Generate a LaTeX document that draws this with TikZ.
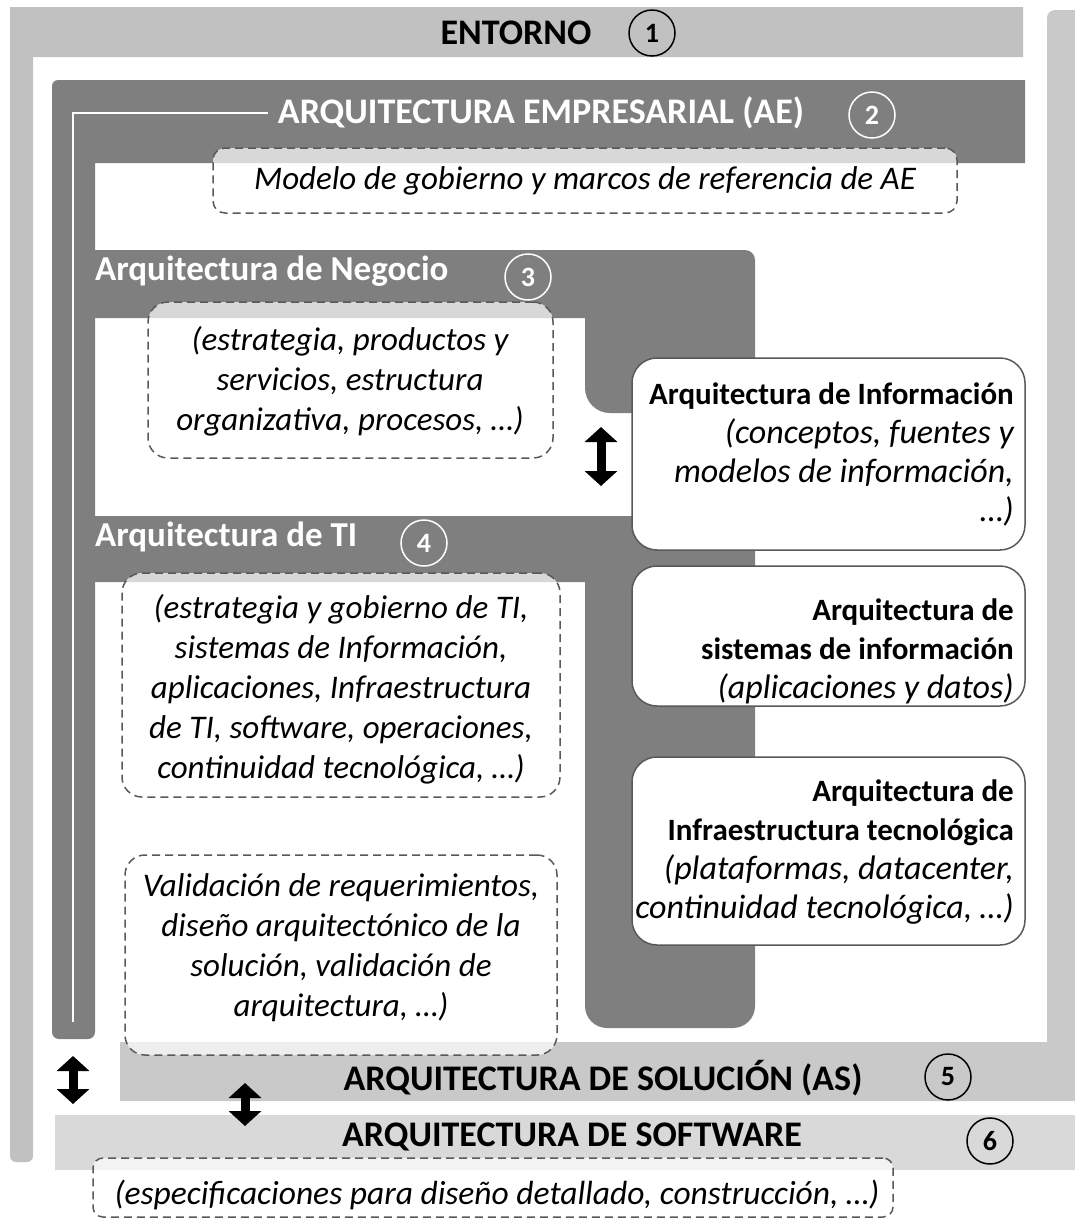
\documentclass[tikz,border=0pt]{standalone}
\usepackage{fontspec}
\setmainfont{Carlito}
\usetikzlibrary{arrows.meta}
\definecolor{entg}{HTML}{C1C1C1}
\definecolor{asg}{HTML}{C9C9C9}
\definecolor{swg}{HTML}{D9D9D9}
\definecolor{darkg}{HTML}{7F7F7F}
\definecolor{edgeg}{HTML}{595959}
\newcommand\lbold[1]{{\fontsize{31}{39}\selectfont\bfseries #1}}
\newcommand\lital[1]{{\itshape #1}}
\begin{document}
\begin{tikzpicture}[x=1pt,y=-1pt,
  num/.style={circle, draw, line width=1.5pt, minimum size=46pt, inner sep=0pt,
    font=\fontsize{28}{28}\selectfont\bfseries},
  numdark/.style={num, draw=black, text=black},
  numlight/.style={num, draw=white, text=white},
  band/.style={font=\fontsize{36}{36}\selectfont\bfseries, inner sep=0pt},
  sub/.style={font=\fontsize{35}{35}\selectfont\bfseries, text=white, inner sep=0pt, anchor=west},
  note/.style={draw=edgeg, dash pattern=on 8pt off 5pt, line width=1.5pt, fill=white,
    fill opacity=0.7, rounded corners=20pt, inner sep=0pt},
  notetext/.style={align=center, font=\fontsize{33}{40}\selectfont\itshape, inner sep=0pt},
  layer/.style={draw=edgeg, line width=1.5pt, fill=white, rounded corners=25pt, inner sep=0pt},
  layertext/.style={align=right, anchor=east, font=\fontsize{34}{39}\selectfont, inner sep=0pt},
  dbl/.style={line width=9pt, {Triangle[length=15pt,width=32pt]}-{Triangle[length=15pt,width=32pt]}},
]
\useasboundingbox (0,0) rectangle (1075,1219);
\fill[white] (0,0) rectangle (1075,1219);

% Entorno frame (top bar and left column)
\fill[entg] (10,7) -- (1023,7) -- (1023,57) -- (33,57) -- (33,1156)
  arc[start angle=0,end angle=90,radius=6] -- (16,1162)
  arc[start angle=90,end angle=180,radius=6] -- cycle;

% Solution architecture band with right column
\fill[asg] (1047,1042) -- (1047,18) arc[start angle=180,end angle=270,radius=8]
  -- (1075,10) -- (1075,1101) -- (120,1101) -- (120,1042) -- cycle;

% Software architecture band
\fill[swg] (55,1115) rectangle (1075,1170);

% Enterprise architecture frame
\fill[darkg] (52,86) arc[start angle=180,end angle=270,radius=6] -- (1025,80)
  -- (1025,163) -- (95,163) -- (95,1032) arc[start angle=0,end angle=90,radius=7]
  -- (59,1039) arc[start angle=90,end angle=180,radius=7] -- cycle;
\coordinate (lineA) at (268,113);
\coordinate (lineB) at (73,113);
\coordinate (lineC) at (73,1022);
\draw[white, line width=2.5pt] (lineA) -- (lineB) -- (lineC);

% Business architecture frame
\fill[darkg] (95,250) -- (745,250) arc[start angle=270,end angle=360,radius=10]
  -- (755,413) -- (610,413) arc[start angle=90,end angle=180,radius=25]
  -- (585,318) -- (95,318) -- cycle;

% IT architecture frame
\fill[darkg] (95,516) -- (755,516) -- (755,1006) arc[start angle=0,end angle=90,radius=22]
  -- (607,1028) arc[start angle=90,end angle=180,radius=22] -- (585,582) -- (95,582) -- cycle;

% Titles and numbers
\node[band] (ent) at (516,33) {ENTORNO};
\node[numdark] (n1) at (652,33) {1};
\node[band, text=white] (ae) at (541,113) {ARQUITECTURA EMPRESARIAL (AE)};
\node[numlight] (n2) at (872,115) {2};
\node[sub] (neg) at (95,271) {Arquitectura de Negocio};
\node[numlight] (n3) at (528,277) {3};
\node[sub] (ti) at (95,537) {Arquitectura de TI};
\node[numlight] (n4) at (424,543) {4};
\node[band] (as) at (603,1078) {ARQUITECTURA DE SOLUCIÓN (AS)};
\node[numdark] (n5) at (948,1077) {5};
\node[band] (sw) at (572,1137) {ARQUITECTURA DE SOFTWARE};
\node[numdark] (n6) at (990,1141) {6};

% Dashed notes
\node[note, rounded corners=12pt, minimum width=744pt, minimum height=65pt] (gobbox) at (585,180.5) {};
\node[notetext] (gob) at (585,181) {Modelo de gobierno y marcos de referencia de AE};
\node[note, minimum width=405pt, minimum height=156pt] (negbox) at (350.5,380) {};
\node[notetext] (negt) at (350,381) {(estrategia, productos y\\servicios, estructura\\organizativa, procesos, …)};
\node[note, minimum width=438pt, minimum height=224pt] (tibox) at (341,685) {};
\node[notetext] (tit) at (341,689) {(estrategia y gobierno de TI,\\sistemas de Información,\\aplicaciones, Infraestructura\\de TI, software, operaciones,\\continuidad tecnológica, …)};
\node[note, minimum width=432pt, minimum height=200pt] (valbox) at (341,955) {};
\node[notetext] (valt) at (341,948) {Validación de requerimientos,\\diseño arquitectónico de la\\solución, validación de\\arquitectura, …)};
\node[note, rounded corners=10pt, minimum width=800pt, minimum height=59pt] (specbox) at (493,1187.5) {};
\node[notetext, font=\fontsize{33.5}{40}\selectfont\itshape] (spect) at (497,1195) {(especificaciones para diseño detallado, construcción, …)};

% Architecture layers
\node[layer, minimum width=393pt, minimum height=192pt] (infobox) at (828.5,454) {};
\node[layertext] (infot) at (1014,454) {\lbold{Arquitectura de Información}\\\lital{(conceptos, fuentes y}\\\lital{modelos de información,}\\\lital{…)}};
\node[layer, minimum width=393pt, minimum height=140pt] (sisbox) at (828.5,636) {};
\node[layertext] (sist) at (1014,651) {\lbold{Arquitectura de}\\\lbold{sistemas de información}\\\lital{(aplicaciones y datos)}};
\node[layer, minimum width=393pt, minimum height=188pt] (infbox) at (828.5,851) {};
\node[layertext] (inft) at (1014,852) {\lbold{Arquitectura de}\\\lbold{Infraestructura tecnológica}\\\lital{(plataformas, datacenter,}\\\lital{continuidad tecnológica, …)}};

% Double arrows
\coordinate (a1t) at (601,427);
\coordinate (a1b) at (601,486);
\coordinate (a2t) at (73,1056);
\coordinate (a2b) at (73,1104);
\coordinate (a3t) at (245,1083);
\coordinate (a3b) at (245,1126);
\draw[dbl] (a1t) -- (a1b);
\draw[dbl] (a2t) -- (a2b);
\draw[dbl] (a3t) -- (a3b);
\end{tikzpicture}
\end{document}
